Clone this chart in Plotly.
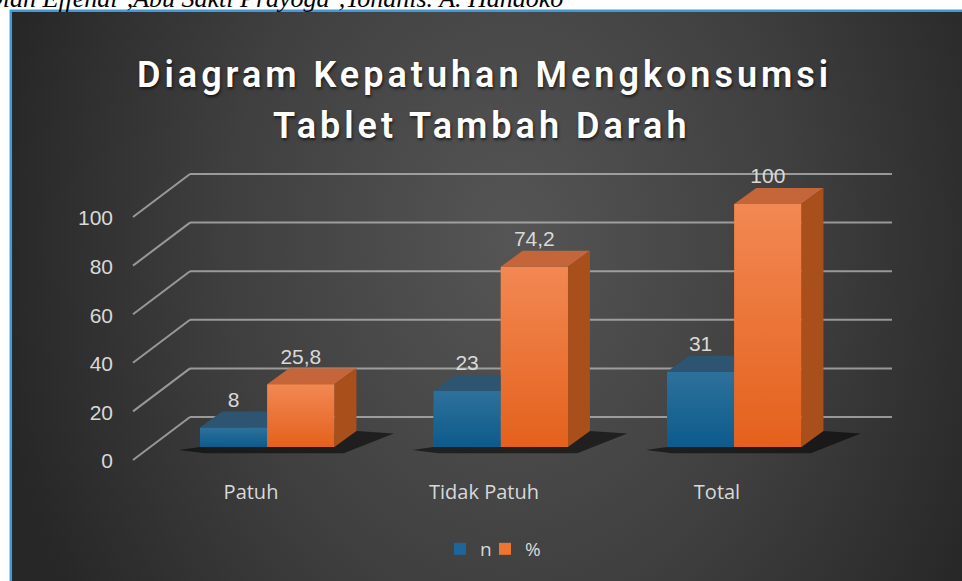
import base64
import plotly.graph_objects as go

# ---------------- data ----------------
categories = ["Patuh", "Tidak Patuh", "Total"]
n_values = [8, 23, 31]
pct_values = [25.8, 74.2, 100]
y_ticks = [0, 20, 40, 60, 80, 100]
series_names = ["n", "%"]

# ---------------- geometry (pixel calibration) ----------------
W, H = 962, 581
X0_PX, X_SCALE = 267.2, 233.5      # category 0 centre, px per category
Y0_PX, Y_SCALE = 447.0, 2.43       # value 0 (bar front), px per unit
x_range = [-X0_PX / X_SCALE, (W - X0_PX) / X_SCALE]
y_range = [-(H - Y0_PX) / Y_SCALE, Y0_PX / Y_SCALE]

BAR_W = 0.288
DDX, DDY = 22 / X_SCALE, 16 / Y_SCALE            # bar depth vector
WALL_DV = 30 / Y_SCALE                           # back wall offset
FRONT_DV = -13 / Y_SCALE                         # front edge offset
FRONT_X = (133 - X0_PX) / X_SCALE
WALL_X0 = (190 - X0_PX) / X_SCALE
WALL_X1 = (892 - X0_PX) / X_SCALE

BLUE, BLUE_TOP = "#1c6797", "#2d5470"
ORANGE, ORANGE_TOP, ORANGE_SIDE = "#ed7431", "#c4653a", "#a94f1c"
TXT = "#d9d9d9"


def svg_uri(svg):
    return "data:image/svg+xml;base64," + base64.b64encode(svg.encode()).decode()


def vgrad(top, bottom):
    return svg_uri(
        '<svg xmlns="http://www.w3.org/2000/svg" width="10" height="10" viewBox="0 0 10 10" '
        'preserveAspectRatio="none"><defs><linearGradient id="g" x1="0" y1="0" x2="0" y2="1">'
        f'<stop offset="0" stop-color="{top}"/><stop offset="1" stop-color="{bottom}"/>'
        '</linearGradient></defs><rect width="10" height="10" fill="url(#g)"/></svg>')


bg_svg = svg_uri(
    '<svg xmlns="http://www.w3.org/2000/svg" width="951" height="570" viewBox="0 0 951 570" '
    'preserveAspectRatio="none"><defs><radialGradient id="g" gradientUnits="userSpaceOnUse" '
    'cx="500" cy="230" r="520" gradientTransform="translate(500 230) scale(1 1.3) translate(-500 -230)">'
    '<stop offset="0" stop-color="#555555"/><stop offset="0.55" stop-color="#3f3f3f"/>'
    '<stop offset="1" stop-color="#272727"/></radialGradient></defs>'
    '<rect width="951" height="570" fill="url(#g)"/></svg>')

fig = go.Figure()
xs = list(range(len(categories)))

# front faces
fig.add_trace(go.Bar(x=xs, y=n_values, name=series_names[0], width=BAR_W, offset=-BAR_W,
                     marker=dict(color=BLUE, line=dict(width=0)), hoverinfo="skip",
                     legend="legend"))
fig.add_trace(go.Bar(x=xs, y=pct_values, name=series_names[1], width=BAR_W, offset=0,
                     marker=dict(color=ORANGE, line=dict(width=0)), hoverinfo="skip",
                     legend="legend2"))


def poly_trace(px, py, color):
    return go.Scatter(x=px, y=py, mode="lines", fill="toself", fillcolor=color,
                      line=dict(width=0, color=color), showlegend=False, hoverinfo="skip")


bt_x, bt_y, ot_x, ot_y, os_x, os_y = [], [], [], [], [], []
for i, (v, p) in enumerate(zip(n_values, pct_values)):
    x0, x1, x2 = i - BAR_W, i, i + BAR_W
    bt_x += [x0, x1, x1, x0 + DDX, x0, None]
    bt_y += [v, v, v + DDY, v + DDY, v, None]
    ot_x += [x1, x2, x2 + DDX, x1 + DDX, x1, None]
    ot_y += [p, p, p + DDY, p + DDY, p, None]
    os_x += [x2, x2, x2 + DDX, x2 + DDX, x2, None]
    os_y += [0, p, p + DDY, DDY, 0, None]
fig.add_trace(poly_trace(bt_x, bt_y, BLUE_TOP))
fig.add_trace(poly_trace(ot_x, ot_y, ORANGE_TOP))
fig.add_trace(poly_trace(os_x, os_y, ORANGE_SIDE))

# data labels
lab_x = [i - BAR_W / 2 for i in xs] + [i + BAR_W / 2 for i in xs]
lab_y = [v + DDY + 10 / Y_SCALE for v in n_values + pct_values]
lab_t = [f"{v:g}".replace(".", ",") for v in n_values + pct_values]
fig.add_trace(go.Scatter(x=lab_x, y=lab_y, text=lab_t, mode="text", textposition="middle center",
                         textfont=dict(family="Liberation Sans, Arial", size=21, color=TXT),
                         showlegend=False, hoverinfo="skip"))

# axis carrier for tick labels
fig.add_trace(go.Scatter(x=xs, y=[0] * len(xs), xaxis="x2", yaxis="y2", mode="markers",
                         marker=dict(opacity=0), showlegend=False, hoverinfo="skip"))

shapes = []
line_style = dict(color="rgba(190,190,190,0.72)", width=2)
for t in y_ticks:
    shapes.append(dict(type="line", xref="x", yref="y", x0=FRONT_X, y0=t + FRONT_DV,
                       x1=WALL_X0, y1=t + WALL_DV, line=line_style, layer="below"))
    shapes.append(dict(type="line", xref="x", yref="y", x0=WALL_X0, y0=t + WALL_DV,
                       x1=WALL_X1, y1=t + WALL_DV, line=line_style, layer="below"))
# bar shadows on the floor
for i in xs:
    x0, x2 = i - BAR_W, i + BAR_W
    path = (f"M{x0 - 0.09},{-1.2} L{x0 + 0.02},{-2.6} L{x2 + 0.04},{-2.6} "
            f"L{x2 + DDX + 0.16},{DDY - 1.0} L{x2 + DDX},{DDY} L{x0},{0} Z")
    shapes.append(dict(type="path", xref="x", yref="y", path=path, layer="below",
                       fillcolor="rgba(0,0,0,0.55)", line=dict(width=0)))
# chart frame border
shapes.append(dict(type="rect", xref="paper", yref="paper", x0=10.8 / W, x1=1.2,
                   y0=-0.2, y1=1 - 10.8 / H, line=dict(color="#3f9bd8", width=2.5),
                   layer="above"))

images = [dict(source=bg_svg, xref="paper", yref="paper", x=11 / W, y=1 - 11 / H,
               sizex=(W - 11) / W, sizey=(H - 11) / H, xanchor="left", yanchor="top",
               sizing="stretch", layer="below")]
for i, (v, p) in enumerate(zip(n_values, pct_values)):
    images.append(dict(source=vgrad("#2e719b", "#0c5b8c"), xref="x", yref="y",
                       x=i - BAR_W, y=v, sizex=BAR_W, sizey=v, xanchor="left",
                       yanchor="top", sizing="stretch", layer="above"))
    images.append(dict(source=vgrad("#f28853", "#e4611c"), xref="x", yref="y",
                       x=i, y=p, sizex=BAR_W, sizey=p, xanchor="left",
                       yanchor="top", sizing="stretch", layer="above"))

title_font = dict(family="Roboto, Open Sans, sans-serif", size=36, color="#ffffff",
                  weight=600, shadow="1px 2px 3px rgba(0,0,0,0.6)")
annotations = [
    dict(text='<span style="letter-spacing:4px">Diagram Kepatuhan Mengkonsumsi</span>',
         xref="paper", yref="paper", x=484 / W, y=1 - 75 / H, xanchor="center",
         yanchor="middle", showarrow=False, font=title_font),
    dict(text='<span style="letter-spacing:4px">Tablet Tambah Darah</span>',
         xref="paper", yref="paper", x=482 / W, y=1 - 126 / H, xanchor="center",
         yanchor="middle", showarrow=False, font=title_font),
    dict(text="Dian Effendi<sup>1</sup>,Abu Sakti Prayoga<sup>2</sup>,Yohanis. A. Handoko",
         xref="paper", yref="paper", x=565 / W, y=1, xanchor="right", yanchor="middle",
         yshift=4, showarrow=False,
         font=dict(family="Liberation Serif, DejaVu Serif, serif", size=26, color="#000000",
                   style="italic")),
]

legend_common = dict(orientation="h", xanchor="left", y=(H - 549) / H, yanchor="middle",
                     bgcolor="rgba(0,0,0,0)", itemwidth=30,
                     font=dict(family="Open Sans, sans-serif", size=19, color=TXT),
                     itemclick=False, itemdoubleclick=False)

fig.update_layout(
    width=W, height=H, margin=dict(l=0, r=0, t=0, b=0),
    paper_bgcolor="#ffffff", plot_bgcolor="rgba(0,0,0,0)",
    barmode="overlay",
    xaxis=dict(range=x_range, visible=False, fixedrange=True),
    yaxis=dict(range=y_range, visible=False, fixedrange=True),
    xaxis2=dict(range=[-251 / 233.0, (W - 251) / 233.0], overlaying="x", anchor="free",
                position=(H - 478) / H, side="bottom", tickvals=xs, ticktext=categories,
                showgrid=False, zeroline=False, showline=False, ticks="", automargin=False,
                tickfont=dict(family="Open Sans, sans-serif", size=20, color=TXT),
                fixedrange=True),
    yaxis2=dict(range=[-(H - 461) / Y_SCALE, 461 / Y_SCALE], overlaying="y", anchor="free",
                position=113 / W, side="left", tickvals=y_ticks, showgrid=False,
                zeroline=False, showline=False, ticks="", automargin=False,
                tickfont=dict(family="Liberation Sans, Arial", size=21, color=TXT),
                fixedrange=True),
    showlegend=True,
    legend=dict(legend_common, x=440 / W),
    legend2=dict(legend_common, x=485 / W),
    shapes=shapes, images=images, annotations=annotations,
)

fig.write_html("out.html", config={"displayModeBar": False},
               post_script="document.body.style.margin='0';document.body.style.padding='0';"
                           "document.body.style.overflow='hidden';")
